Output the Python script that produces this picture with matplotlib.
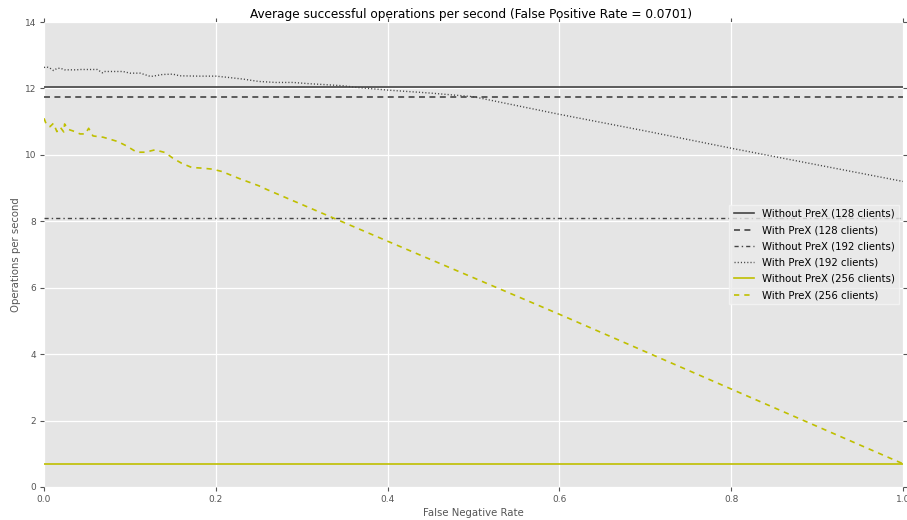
import matplotlib
matplotlib.use("Agg")
import matplotlib.pyplot as plt

# ---- data ----
title = "Average successful operations per second (False Positive Rate = 0.0701)"
xlabel = "False Negative Rate"
ylabel = "Operations per second"

without_128 = 12.05
with_128 = 11.75
without_192 = 8.1
without_256 = 0.7

x_192 = [0.0, 0.003, 0.007, 0.011, 0.015, 0.019, 0.024, 0.03, 0.038, 0.042, 0.05, 0.062,
         0.068, 0.07, 0.08, 0.092, 0.1, 0.112, 0.124, 0.127, 0.138, 0.15, 0.158, 0.18,
         0.2, 0.215, 0.232, 0.25, 0.27, 0.29, 0.31, 0.33, 0.348, 0.364, 0.4, 0.45,
         0.5, 0.6, 0.7, 0.8, 0.9, 1.0]
y_192 = [12.63, 12.65, 12.61, 12.54, 12.6, 12.61, 12.56, 12.56, 12.56, 12.57, 12.57, 12.57,
         12.47, 12.51, 12.51, 12.51, 12.46, 12.46, 12.36, 12.37, 12.42, 12.43, 12.38, 12.37,
         12.37, 12.33, 12.28, 12.21, 12.18, 12.18, 12.14, 12.11, 12.08, 12.03, 11.95, 11.86,
         11.75, 11.22, 10.72, 10.2, 9.7, 9.2]

x_256 = [0.0, 0.003, 0.007, 0.011, 0.015, 0.019, 0.023, 0.024, 0.028, 0.036, 0.042, 0.048,
         0.052, 0.057, 0.069, 0.077, 0.086, 0.096, 0.108, 0.118, 0.129, 0.141, 0.15, 0.16,
         0.172, 0.184, 0.196, 0.207, 0.228, 0.25, 0.26, 0.4, 0.6, 0.8, 1.0]
y_256 = [11.1, 10.9, 10.85, 10.95, 10.7, 10.83, 10.69, 10.93, 10.77, 10.7, 10.63, 10.63,
         10.8, 10.57, 10.53, 10.47, 10.4, 10.27, 10.08, 10.08, 10.15, 10.07, 9.9, 9.75,
         9.62, 9.6, 9.57, 9.5, 9.28, 9.07, 8.95, 7.4, 5.2, 2.95, 0.7]

labels = ["Without PreX (128 clients)", "With PreX (128 clients)",
          "Without PreX (192 clients)", "With PreX (192 clients)",
          "Without PreX (256 clients)", "With PreX (256 clients)"]

xticks = [0.0, 0.2, 0.4, 0.6, 0.8, 1.0]
yticks = [0, 2, 4, 6, 8, 10, 12, 14]

# ---- plot ----
plt.rcParams['font.family'] = ['DejaVu Sans']
plt.rcParams['lines.scale_dashes'] = False
fig = plt.figure(figsize=(9.07, 5.2), dpi=100)
ax = fig.add_axes([44/907, 1-487/520, (903-44)/907, (487-22)/520])
ax.set_facecolor('#E5E5E5')
for s in ax.spines.values():
    s.set_visible(False)
ax.grid(True, color='white', linewidth=0.9)
ax.set_axisbelow(True)

dark = '#444444'
yel = (0.75, 0.75, 0.0)
ax.axhline(without_128, color=dark, lw=1.2, ls='-', label=labels[0])
ax.axhline(with_128, color=dark, lw=1.2, ls=(0, (4.3, 3.2)), label=labels[1])
ax.axhline(without_192, color=dark, lw=1.0, ls=(0, (3.0, 2.2, 1.0, 2.2)), label=labels[2])
ax.plot(x_192, y_192, color=dark, lw=1.0, ls=(0, (0.8, 1.5)), label=labels[3])
ax.axhline(without_256, color=yel, lw=1.2, ls='-', label=labels[4])
ax.plot(x_256, y_256, color=yel, lw=1.2, ls=(0, (3.8, 3.6)), label=labels[5])

ax.set_xlim(0, 1)
ax.set_ylim(0, 14)
ax.set_xticks(xticks)
ax.set_xticklabels([f"{v:.1f}" for v in xticks])
ax.set_yticks(yticks)
ax.tick_params(direction='out', colors='#555555', labelsize=6.5, length=3, pad=2.5,
               top=True, right=True, labeltop=False, labelright=False)
ax.set_xlabel(xlabel, fontsize=7.3, color='#555555', labelpad=3)
ax.set_ylabel(ylabel, fontsize=7.3, color='#555555', labelpad=3)
ax.set_title(title, fontsize=8.7, pad=3, x=0.497)

leg = ax.legend(loc='center right', fontsize=7.3, frameon=True, fancybox=False,
                borderaxespad=0.4, handlelength=2.0, labelspacing=0.62)
leg.get_frame().set_facecolor('#EBEBEB')
leg.get_frame().set_edgecolor('#F5F5F5')

fig.savefig('out.png', dpi=100)
